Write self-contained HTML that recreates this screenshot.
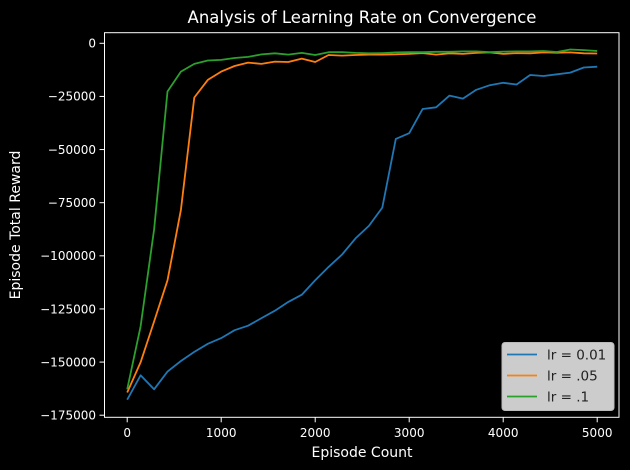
<!DOCTYPE html>
<html><head><meta charset="utf-8"><style>
html,body{margin:0;padding:0;background:#000;}
svg{display:block;font-family:"DejaVu Sans","Liberation Sans",sans-serif;}
</style></head><body>
<svg id="chart" width="630" height="470" viewBox="0 0 630 470">
<rect width="630" height="470" fill="#000"/>
<text x="362" y="23" fill="#fff" font-size="16.5" text-anchor="middle">Analysis of Learning Rate on Convergence</text>
<text transform="translate(20,225) rotate(-90)" fill="#fff" font-size="14" text-anchor="middle">Episode Total Reward</text>
<text x="362" y="457" fill="#fff" font-size="14" text-anchor="middle">Episode Count</text>
<g id="ticks"></g>
<g id="series"></g>
<rect x="104.5" y="32.7" width="514.5" height="384.6" fill="none" stroke="#fff" stroke-width="1"/>
<g id="legend"></g>
</svg>
<script>
const seriesNames = ["lr = 0.01", "lr = .05", "lr = .1"];
const seriesColors = ["#1f77b4", "#ff7f0e", "#2ca02c"];
const xTicks = [0, 1000, 2000, 3000, 4000, 5000];
const yTicks = [0, -25000, -50000, -75000, -100000, -125000, -150000, -175000];
const lr001 = [-167700,-156200,-162800,-154500,-149500,-145200,-141400,-138700,-135000,-132900,-129300,-125800,-121700,-118300,-111500,-105200,-99400,-91800,-85900,-77300,-45000,-42300,-30900,-30100,-24600,-26000,-21900,-19700,-18600,-19400,-14900,-15400,-14600,-13800,-11400,-11000];
const lr005 = [-164300,-150100,-130900,-111500,-78400,-25500,-17200,-13300,-10700,-9100,-9700,-8600,-8800,-7200,-8800,-5500,-5800,-5500,-5300,-5300,-5200,-5000,-4600,-5300,-4700,-5000,-4500,-4300,-5000,-4600,-4700,-4300,-4400,-4300,-4700,-4800];
const lr01 = [-162800,-133200,-87600,-22700,-13300,-9700,-8100,-7800,-6900,-6400,-5200,-4700,-5300,-4500,-5500,-4200,-4200,-4500,-4700,-4600,-4300,-4200,-4200,-4000,-4000,-3800,-3800,-4200,-3900,-3800,-3800,-3600,-4100,-2900,-3200,-3600];
const allSeries = [lr001, lr005, lr01];

const NS = "http://www.w3.org/2000/svg";
function xs(v){ return 127.2 + v * (470/5000); }
function ys(v){ return 43.3 - v * (53.13/25000); }
function episodeAt(i, n){ return i * 5000 / (n - 1); }

const tg = document.getElementById('ticks');
xTicks.forEach(t => {
  const l = document.createElementNS(NS,'line');
  l.setAttribute('x1', xs(t)); l.setAttribute('x2', xs(t));
  l.setAttribute('y1', 417.3); l.setAttribute('y2', 422.3);
  l.setAttribute('stroke','#fff');
  
  
  tg.appendChild(l);
  const tx = document.createElementNS(NS,'text');
  tx.setAttribute('x', xs(t)); tx.setAttribute('y', 437);
  tx.setAttribute('fill','#fff'); tx.setAttribute('font-size','12'); tx.setAttribute('text-anchor','middle');
  tx.textContent = t;
  
  
  tg.appendChild(tx);
});
yTicks.forEach(t => {
  const l = document.createElementNS(NS,'line');
  l.setAttribute('x1', 99.5); l.setAttribute('x2', 104.5);
  l.setAttribute('y1', ys(t)); l.setAttribute('y2', ys(t));
  l.setAttribute('stroke','#fff');
  
  
  tg.appendChild(l);
  const tx = document.createElementNS(NS,'text');
  tx.setAttribute('x', 96); tx.setAttribute('y', ys(t) + 4.3);
  tx.setAttribute('fill','#fff'); tx.setAttribute('font-size','12'); tx.setAttribute('text-anchor','end');
  tx.textContent = t < 0 ? '\u2212' + Math.abs(t) : t;
  
  
  tg.appendChild(tx);
});

const sg = document.getElementById('series');
allSeries.forEach((arr, k) => {
  const p = document.createElementNS(NS,'polyline');
  p.setAttribute('points', arr.map((v,i) => xs(episodeAt(i, arr.length)).toFixed(1) + ',' + ys(v).toFixed(1)).join(' '));
  p.setAttribute('fill','none'); p.setAttribute('stroke', seriesColors[k]);
  p.setAttribute('stroke-width','1.8'); p.setAttribute('stroke-linejoin','round');
  
  
  sg.appendChild(p);
});

const lg = document.getElementById('legend');
const box = document.createElementNS(NS,'rect');
box.setAttribute('x', 502); box.setAttribute('y', 342.5); box.setAttribute('width', 112); box.setAttribute('height', 68);
box.setAttribute('rx', 3); box.setAttribute('fill', '#cccccc'); box.setAttribute('stroke', '#bbbbbb');


lg.appendChild(box);
seriesNames.forEach((n, k) => {
  const y = 354.5 + k * 21;
  const l = document.createElementNS(NS,'line');
  l.setAttribute('x1', 507); l.setAttribute('x2', 537);
  l.setAttribute('y1', y); l.setAttribute('y2', y);
  l.setAttribute('stroke', seriesColors[k]); l.setAttribute('stroke-width', '1.8');
  
  
  lg.appendChild(l);
  const t = document.createElementNS(NS,'text');
  t.setAttribute('x', 547); t.setAttribute('y', y + 5);
  t.setAttribute('fill', '#222'); t.setAttribute('font-size', '13.5');
  t.textContent = n;
  
  
  lg.appendChild(t);
});
</script>
</body></html>
